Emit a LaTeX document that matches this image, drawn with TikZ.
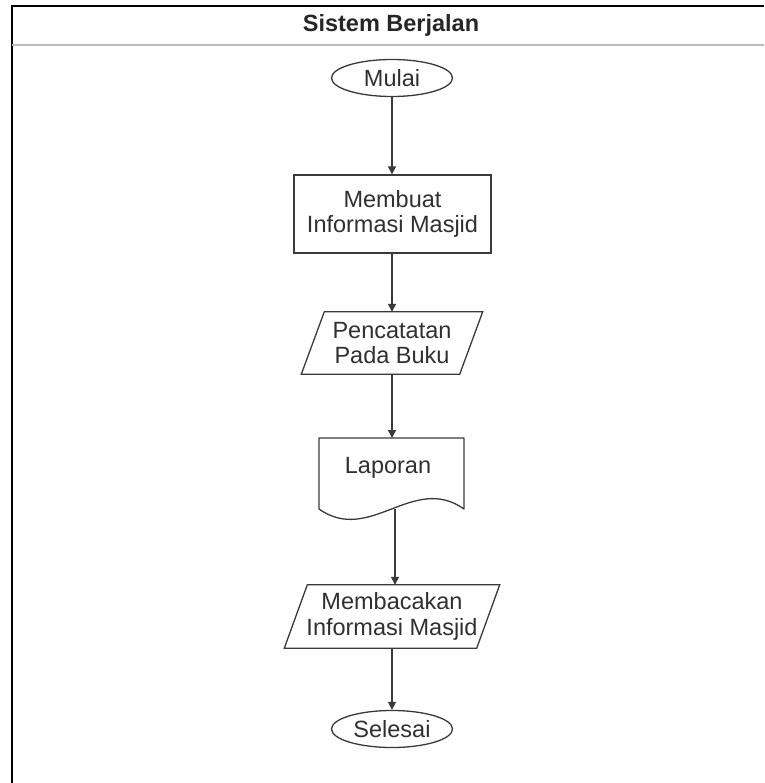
\documentclass[tikz,border=0pt]{standalone}
\usepackage{fontspec}
\setmainfont{Liberation Sans}
\usetikzlibrary{arrows.meta,shapes.geometric}
\definecolor{ln}{HTML}{3A3A3A}
\definecolor{tx}{HTML}{303030}
\tikzset{
  every node/.style={text=tx, font=\fontsize{23.5}{25.5}\selectfont, align=center, inner sep=0pt},
  shapeline/.style={draw=ln, line width=1.3pt},
  term/.style={shapeline, ellipse, minimum width=121pt, minimum height=37pt},
  procbox/.style={shapeline, rectangle, minimum width=197pt, minimum height=78pt},
  iobox/.style={rectangle, minimum height=62pt},
  flow/.style={draw=ln, line width=1.3pt, -{Triangle[length=8pt,width=8pt]}},
}
\begin{document}
\begin{tikzpicture}[x=1pt,y=-1pt]
\useasboundingbox (0,0) rectangle (764,783);
\fill[white] (0,0) rectangle (764,783);
% frame
\draw[black, line width=1.4pt] (764,6) -- (12,6) -- (12,783);
\draw[gray!55, line width=1.6pt] (12,45) -- (764,45);
\node[font=\bfseries\fontsize{23.5}{25.5}\selectfont, text=black!85] (title) at (391,25) {Sistem Berjalan};
% nodes
\node[term] (start) at (392,78) {Mulai};
\node[procbox] (proc) at (392.5,214) {Membuat\\Informasi Masjid};
\node[iobox, minimum width=158pt] (io1) at (392,343) {Pencatatan\\Pada Buku};
\draw[shapeline] ([xshift=11.5pt]io1.north west) -- ([xshift=11.5pt]io1.north east)
  -- ([xshift=-11.5pt]io1.south east) -- ([xshift=-11.5pt]io1.south west) -- cycle;
% document
\coordinate (doctop) at (392,438);
\coordinate (docbot) at (395,509);
\draw[shapeline, line join=round] (319,509) -- (319,438) -- (464,438) -- (464,509)
  .. controls (413,473) and (370,545) .. (319,509);
\node (doc) at (388,468) {Laporan};
\node[iobox, minimum width=192pt, minimum height=63pt] (io2) at (392,616.5) {Membacakan\\Informasi Masjid};
\draw[shapeline] ([xshift=11.5pt]io2.north west) -- ([xshift=11.5pt]io2.north east)
  -- ([xshift=-11.5pt]io2.south east) -- ([xshift=-11.5pt]io2.south west) -- cycle;
\node[term] (stop) at (392,729) {Selesai};
% connectors
\draw[flow] (start.south) -- (start.south |- proc.north);
\draw[flow] (proc.south -| io1.north) -- (io1.north);
\draw[flow] (io1.south) -- (doctop);
\draw[flow] (docbot) -- (docbot |- io2.north);
\draw[flow] (io2.south) -- (stop.north);
\end{tikzpicture}
\end{document}
